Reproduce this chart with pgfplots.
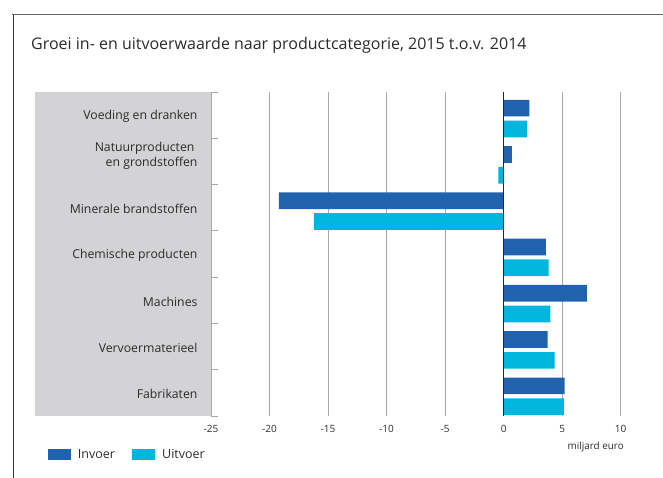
\documentclass[border=0pt]{standalone}
\usepackage{pgfplots}
\pgfplotsset{compat=1.18}
\usepackage{fontspec}
\setmainfont{Open Sans}

\definecolor{invoer}{HTML}{2062AE}
\definecolor{uitvoer}{HTML}{00B6DE}
\definecolor{gridgray}{HTML}{A8A8A8}
\definecolor{labelbg}{HTML}{D3D3D5}
\definecolor{txt}{HTML}{2B2B2B}

\begin{document}
\begin{tikzpicture}
\useasboundingbox (0pt,0pt) rectangle (663pt,-478pt);
% frame
\draw[black!60, line width=1pt] (12pt,-15pt) -- (663pt,-15pt);
\draw[black!80, line width=1pt] (13pt,-15pt) -- (13pt,-478pt);
\node[anchor=west, inner sep=0pt, text=txt, font=\fontsize{16}{19}\selectfont]
  at (31pt,-45pt) {Groei in- en uitvoerwaarde naar productcategorie, 2015 t.o.v. 2014};
% grey label panel
\fill[labelbg] (35pt,-92pt) rectangle (211pt,-416pt);

\begin{axis}[
  at={(211pt,-416pt)}, anchor=south west,
  scale only axis, width=409.7pt, height=324pt,
  xmin=-25, xmax=10, ymin=-0.5, ymax=6.5,
  xbar, bar width=16.7pt,
  axis x line*=bottom, axis y line*=left,
  x axis line style={draw=none},
  y axis line style={gridgray, line width=1pt},
  xtick={-25,-20,-15,-10,-5,0,5,10},
  xticklabels={-25,-20,-15,-10,-5,0,5,10},
  xticklabel style={font=\fontsize{10}{12}\selectfont, text=txt, yshift=-6pt},
  xmajorgrids, grid style={gridgray, line width=1pt},
  major tick length=0pt,
  ytick={0,...,6},
  yticklabels={Fabrikaten, Vervoermaterieel, Machines, Chemische producten,
    Minerale brandstoffen,
    {Natuurproducten\hspace*{0.25em}\\en grondstoffen\rule[-17pt]{0pt}{1pt}},
    Voeding en dranken},
  yticklabel style={align=right, font=\fontsize{12.25}{14.3}\selectfont, text=txt,
    xshift=-10pt, yshift=-1.5pt},
  minor ytick={-0.5,0.5,...,6.5},
  minor tick length=7pt, tick align=inside,
  minor tick style={gridgray, line width=1pt},
  legend columns=2,
  legend style={at={(-0.3979,-0.1190)}, anchor=west, draw=none, fill=none,
    inner sep=0pt, font=\fontsize{12.5}{15}\selectfont, text=txt,
    /tikz/every odd column/.append style={column sep=5pt},
    /tikz/every even column/.append style={column sep=15.5pt}},
  legend image code/.code={\fill[#1] (0pt,-5.65pt) rectangle (22.7pt,5.65pt);},
]
\addplot[fill=invoer, draw=none, bar shift=7pt]
  coordinates {(2.2,6) (0.7,5) (-19.2,4) (3.6,3) (7.1,2) (3.75,1) (5.2,0)};
\addlegendentry{Invoer}
\addplot[fill=uitvoer, draw=none, bar shift=-13.8pt]
  coordinates {(2.0,6) (-0.45,5) (-16.2,4) (3.85,3) (4.0,2) (4.35,1) (5.15,0)};
\addlegendentry{Uitvoer}
\draw[black!85, line width=1pt] (axis cs:0,-0.5) -- (axis cs:0,6.5);
\end{axis}

\node[anchor=east, inner sep=0pt, text=txt, font=\fontsize{9.9}{12}\selectfont]
  at (624pt,-446.7pt) {miljard euro};
\end{tikzpicture}
\end{document}
